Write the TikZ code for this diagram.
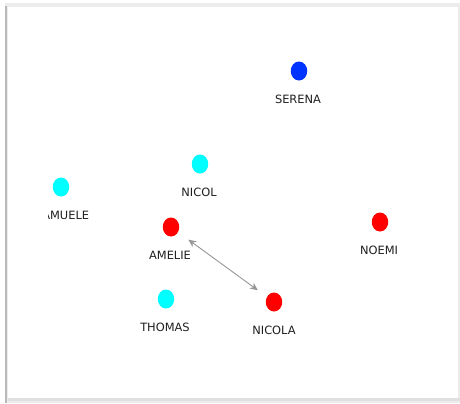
\documentclass[tikz,border=0pt]{standalone}
\usepackage{fontspec}
\setmainfont{DejaVu Sans}
\usetikzlibrary{arrows.meta, shapes.geometric}
\definecolor{dotblue}{RGB}{0,51,255}
\definecolor{dotcyan}{RGB}{0,255,255}
\definecolor{dotred}{RGB}{255,0,0}
\definecolor{edgegray}{RGB}{150,150,150}
\definecolor{framegray}{RGB}{236,236,236}
\begin{document}
\begin{tikzpicture}[x=0.02cm, y=-0.02cm,
    person/.style={ellipse, minimum width=0.33cm, minimum height=0.38cm, inner sep=0pt},
    personlabel/.style={font=\fontsize{6.5}{7}\selectfont, text=black!88, inner sep=0pt},
    link/.style={edgegray, line width=0.5pt, {Stealth[length=4.5pt,width=4pt]}-{Stealth[length=4.5pt,width=4pt]}}]
  \useasboundingbox (0,0) rectangle (460,403);

  % Frame
  \fill[framegray] (5,3) rectangle (460,403);
  \fill[white] (8,7) rectangle (458,398);
  \fill[black!12] (8,398) rectangle (460,401);
  \fill[black!28] (5,6) rectangle (7,403);

  % People
  \node[person, fill=dotblue] (serena) at (299,71) {};
  \node[person, fill=dotcyan] (nicol) at (200,164) {};
  \node[person, fill=dotcyan] (samuele) at (61,187) {};
  \node[person, fill=dotred] (amelie) at (171,227) {};
  \node[person, fill=dotred] (noemi) at (380,222) {};
  \node[person, fill=dotcyan] (thomas) at (166,299) {};
  \node[person, fill=dotred] (nicola) at (274,302) {};

  % Labels
  \node[personlabel] (serenaL) at (298,99) {SERENA};
  \node[personlabel] (nicolL) at (199,192) {NICOL};
  \begin{scope}
    \clip (48,200) rectangle (120,230);
    \node[personlabel] (samueleL) at (62,215) {SAMUELE};
  \end{scope}
  \node[personlabel] (amelieL) at (170,255) {AMELIE};
  \node[personlabel] (noemiL) at (379,250) {NOEMI};
  \node[personlabel] (thomasL) at (165,327) {THOMAS};
  \node[personlabel] (nicolaL) at (274,330) {NICOLA};

  % Link
  \draw[link, shorten <=0.25cm, shorten >=0.22cm] (amelie) -- (nicola);
\end{tikzpicture}
\end{document}
